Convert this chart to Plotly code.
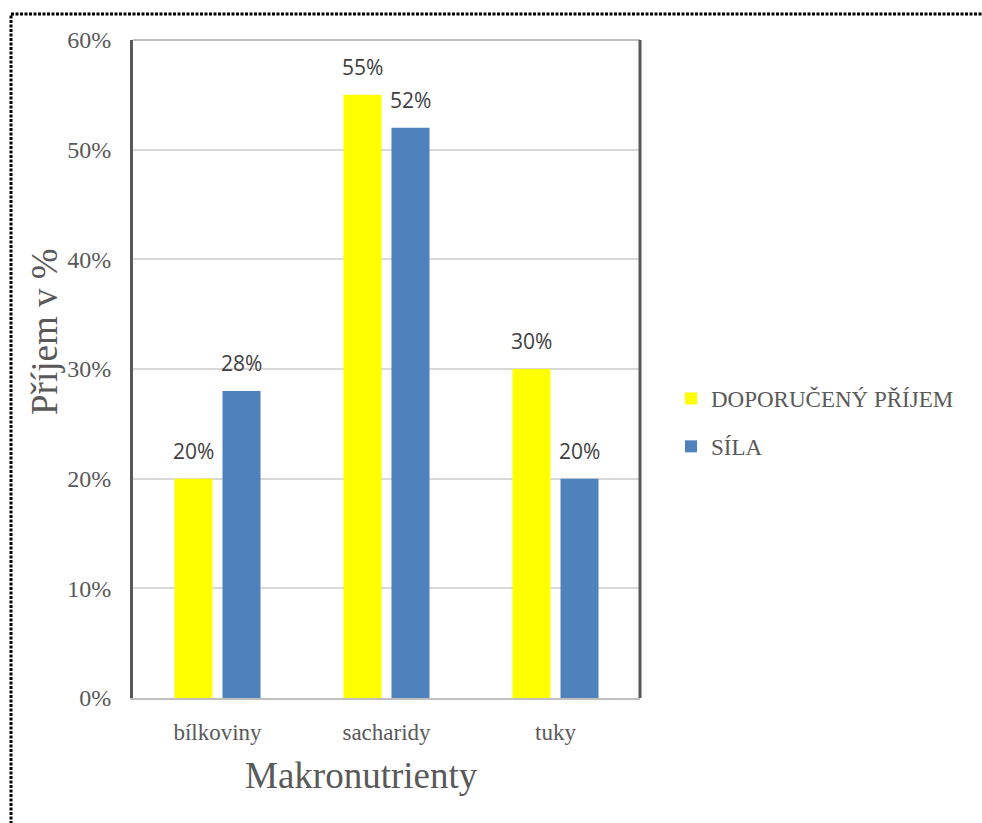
import plotly.graph_objects as go

# Macronutrient intake shares
categories = ["bílkoviny", "sacharidy", "tuky"]
recommended = [0.20, 0.55, 0.30]
sila = [0.28, 0.52, 0.20]
series_names = ["DOPORUČENÝ PŘÍJEM", "SÍLA"]
y_ticks = [0, 0.1, 0.2, 0.3, 0.4, 0.5, 0.6]

W, H = 982, 823
L, R, T, B = 133, 640, 40, 698  # plot area edges in pixels

def px_x(x):
    return (x - L) / (R - L)

def px_y(y):
    return (B - y) / (B - T)

serif = "Liberation Serif, Times New Roman, serif"
sans = "Open Sans, Liberation Sans, sans-serif"
colors = ["#FFFF00", "#4F81BD"]
offsets = [-24, 24]  # horizontal offset of each series inside a group (px)

fig = go.Figure()
for i, (name, vals) in enumerate(zip(series_names, [recommended, sila])):
    fig.add_trace(go.Bar(
        x=categories, y=vals, name=name, legendgroup=name,
        marker=dict(color=colors[i], line=dict(width=0)),
    ))

# value labels above each bar
annotations = []
for i, vals in enumerate([recommended, sila]):
    for cat, v in zip(categories, vals):
        annotations.append(dict(
            x=cat, y=v, xref="x", yref="y", text=f"{v:.0%}",
            showarrow=False, xanchor="center", yanchor="bottom",
            xshift=offsets[i], yshift=12,
            font=dict(family=sans, size=21, color="#404040"),
        ))

annotations += [
    dict(text="Makronutrienty", xref="paper", yref="paper",
         x=px_x(361), y=px_y(775), xanchor="center", yanchor="middle",
         showarrow=False, font=dict(family=serif, size=37, color="#595959")),
    dict(text="Příjem v %", xref="paper", yref="paper",
         x=px_x(44), y=px_y(332), xanchor="center", yanchor="middle",
         textangle=-90, showarrow=False,
         font=dict(family=serif, size=37, color="#595959")),
]

fig.update_layout(
    width=W, height=H,
    margin=dict(l=L, r=W - R, t=T, b=H - B, pad=0),
    paper_bgcolor="white", plot_bgcolor="white",
    barmode="group", bargap=0.432, bargroupgap=0.208,
    font=dict(family=serif, color="#595959"),
    showlegend=True,
    legend=dict(
        x=px_x(671), y=px_y(377), xanchor="left", yanchor="top",
        font=dict(family=serif, size=23, color="#595959"),
        itemsizing="constant", traceorder="grouped", tracegroupgap=15,
        bgcolor="rgba(0,0,0,0)",
    ),
    xaxis=dict(
        showgrid=False, showline=True, linecolor="#BFBFBF", linewidth=2,
        mirror=False, ticks="", tickfont=dict(family=serif, size=23, color="#595959"),
        ticklabelstandoff=12,
    ),
    yaxis=dict(
        range=[0, 0.6], tickvals=y_ticks, tickformat=".0%",
        showgrid=True, gridcolor="#D9D9D9", gridwidth=1.5,
        showline=True, linecolor="#595959", linewidth=3, mirror=False,
        ticks="", ticklabelstandoff=14,
        tickfont=dict(family=serif, size=24, color="#595959"),
        zeroline=False,
    ),
    shapes=[
        # top frame line
        dict(type="line", xref="paper", yref="paper", x0=0, x1=1, y0=1, y1=1,
             line=dict(color="#BFBFBF", width=2)),
        # right frame line
        dict(type="line", xref="paper", yref="paper", x0=1, x1=1, y0=0, y1=1,
             line=dict(color="#595959", width=3)),
        # dotted border around the chart
        dict(type="rect", xref="paper", yref="paper",
             x0=px_x(11), x1=px_x(W + 20), y0=px_y(H + 20), y1=px_y(14),
             line=dict(color="black", width=3, dash="3px,1.5px"), layer="above"),
    ],
    annotations=annotations,
)

fig.write_html("out.html")
